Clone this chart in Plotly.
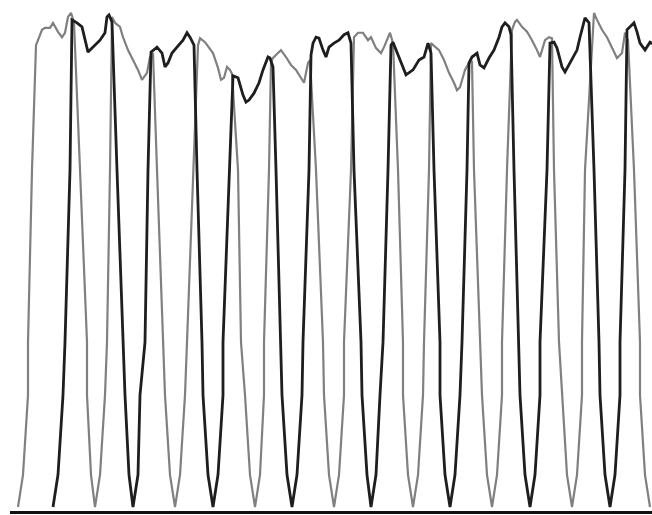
import plotly.graph_objects as go

# Position along the horizontal axis (arbitrary units)
# and transmission level (0 = baseline, ~100 = highest peak).
gray_x = [18, 23, 28, 28, 32, 36, 38, 42, 45, 50, 53, 58, 62, 65, 68, 71, 74, 80, 87, 87, 91, 95,
          100, 105, 107, 110, 112, 115, 120, 123, 128, 133, 138, 142, 147, 150, 153, 157, 163, 165, 170, 175,
          180, 185, 187, 193, 198, 200, 205, 213, 218, 221, 224, 227, 230, 232, 238, 241, 245, 250, 255,
          260, 264, 264, 269, 271, 273, 278, 281, 286, 291, 296, 301, 304, 308, 310, 316, 323, 324, 329, 334,
          339, 344, 344, 351, 354, 358, 363, 368, 371, 376, 381, 384, 388, 390, 393, 398, 403, 403, 408, 413,
          418, 423, 424, 429, 431, 435, 439, 444, 449, 454, 457, 460, 465, 469, 472, 474, 480, 482, 487, 492,
          497, 502, 502, 507, 512, 515, 517, 522, 527, 532, 537, 540, 545, 549, 552, 554, 559, 562, 567, 572,
          577, 582, 582, 585, 594, 597, 602, 607, 612, 617, 622, 625, 628, 634, 640, 640, 645, 650]
gray_y = [0, 6.5, 22.6, 33.3, 68.1, 93.3, 94.3, 96.4, 96.8, 96.8, 97.8, 96.0, 94.9, 95.8, 99.0, 99.8, 98.0, 68.1, 33.3, 22.6, 6.5, 0,
          6.5, 22.6, 33.3, 68.1, 99.0, 97.8, 97.0, 94.9, 92.3, 90.3, 88.3, 86.3, 87.7, 90.9, 91.7, 68.1, 33.3, 22.6, 6.5, 0,
          6.5, 22.6, 33.3, 68.1, 93.3, 94.7, 93.9, 91.7, 88.7, 86.3, 86.7, 88.9, 88.3, 87.5, 68.1, 33.3, 22.6, 6.5, 0,
          6.5, 22.6, 33.3, 68.1, 89.9, 90.7, 91.7, 92.3, 90.9, 89.3, 88.3, 86.7, 85.7, 89.7, 90.3, 68.1, 33.3, 22.6, 6.5, 0,
          6.5, 22.6, 33.3, 68.1, 94.9, 95.8, 95.8, 94.3, 94.9, 92.7, 91.7, 92.9, 94.9, 95.8, 93.7, 68.1, 33.3, 22.6, 6.5, 0,
          6.5, 22.6, 33.3, 68.1, 93.7, 92.9, 92.3, 90.3, 87.7, 85.7, 84.2, 84.8, 88.3, 89.7, 89.9, 68.1, 33.3, 22.6, 6.5, 0,
          6.5, 22.6, 33.3, 68.1, 96.4, 98.0, 98.4, 97.0, 96.0, 94.3, 92.3, 90.9, 94.3, 94.9, 94.7, 68.1, 33.3, 22.6, 6.5, 0,
          6.5, 22.6, 33.3, 68.1, 99.8, 98.4, 96.4, 94.9, 92.9, 90.7, 91.7, 95.8, 94.3, 68.1, 33.3, 22.6, 6.5, 0]

black_x = [53, 58, 63, 65, 70, 72, 77, 82, 88, 93, 100, 105, 107, 109, 112, 117, 123, 125, 129, 133,
           138, 140, 145, 148, 151, 157, 162, 165, 168, 172, 177, 183, 187, 190, 194, 197, 202, 203, 208, 213,
           218, 223, 223, 229, 233, 238, 243, 246, 249, 254, 259, 263, 266, 268, 270, 273, 276, 281, 282, 287, 292,
           297, 302, 303, 309, 311, 313, 316, 319, 323, 326, 329, 334, 339, 344, 348, 351, 354, 361, 362, 367, 371,
           376, 380, 383, 388, 391, 393, 396, 401, 406, 413, 419, 424, 428, 431, 434, 440, 440, 445, 450,
           455, 460, 462, 467, 469, 472, 477, 480, 484, 489, 494, 499, 502, 505, 509, 511, 514, 519, 520, 525, 530,
           535, 540, 540, 547, 550, 554, 557, 562, 565, 570, 577, 580, 584, 585, 589, 594, 599, 600, 605, 610,
           615, 620, 620, 625, 627, 634, 637, 640, 645, 650, 655]
black_y = [0, 6.5, 22.6, 33.3, 68.1, 98.4, 97.8, 97.0, 91.9, 92.9, 94.3, 95.8, 99.0, 99.4, 98.0, 68.1, 33.3, 22.6, 6.5, 0,
           6.5, 22.6, 33.3, 68.1, 91.9, 92.9, 91.7, 88.9, 89.7, 91.7, 92.9, 94.3, 95.8, 94.9, 93.3, 68.1, 33.3, 22.6, 6.5, 0,
           6.5, 22.6, 33.3, 68.1, 87.1, 86.7, 83.2, 81.8, 82.2, 83.6, 85.7, 88.3, 89.9, 90.9, 90.7, 88.9, 68.1, 33.3, 22.6, 6.5, 0,
           6.5, 22.6, 33.3, 68.1, 91.3, 93.7, 94.9, 94.7, 92.3, 90.9, 92.9, 93.7, 94.3, 95.4, 95.8, 93.7, 68.1, 33.3, 22.6, 6.5, 0,
           6.5, 22.6, 33.3, 68.1, 93.3, 93.9, 92.3, 89.7, 87.3, 88.3, 90.3, 90.9, 93.7, 91.7, 68.1, 33.3, 22.6, 6.5, 0,
           6.5, 22.6, 33.3, 68.1, 89.7, 90.9, 91.7, 89.3, 88.7, 90.7, 92.3, 94.9, 97.0, 97.8, 97.0, 95.4, 68.1, 33.3, 22.6, 6.5, 0,
           6.5, 22.6, 33.3, 68.1, 93.7, 93.9, 92.7, 88.9, 87.9, 89.7, 92.3, 94.9, 97.8, 98.8, 97.8, 68.1, 33.3, 22.6, 6.5, 0,
           6.5, 22.6, 33.3, 68.1, 96.4, 97.8, 96.0, 93.7, 92.3, 93.9, 93.3]

fig = go.Figure()
fig.add_trace(go.Scatter(x=gray_x, y=gray_y, mode="lines",
                         line=dict(color="#808080", width=2.2), showlegend=False,
                         hoverinfo="skip"))
fig.add_trace(go.Scatter(x=black_x, y=black_y, mode="lines",
                         line=dict(color="#1e1e1e", width=2.8), showlegend=False,
                         hoverinfo="skip"))

fig.update_layout(
    width=652, height=515,
    margin=dict(l=10, r=0, t=0, b=4),
    paper_bgcolor="white", plot_bgcolor="white",
    xaxis=dict(range=[10, 652], showline=True, linecolor="#111111", linewidth=3,
               showgrid=False, zeroline=False, showticklabels=False, ticks=""),
    yaxis=dict(range=[-0.81, 102.42], showline=False, showgrid=False,
               zeroline=False, showticklabels=False, ticks=""),
)

fig.write_html("out.html")
